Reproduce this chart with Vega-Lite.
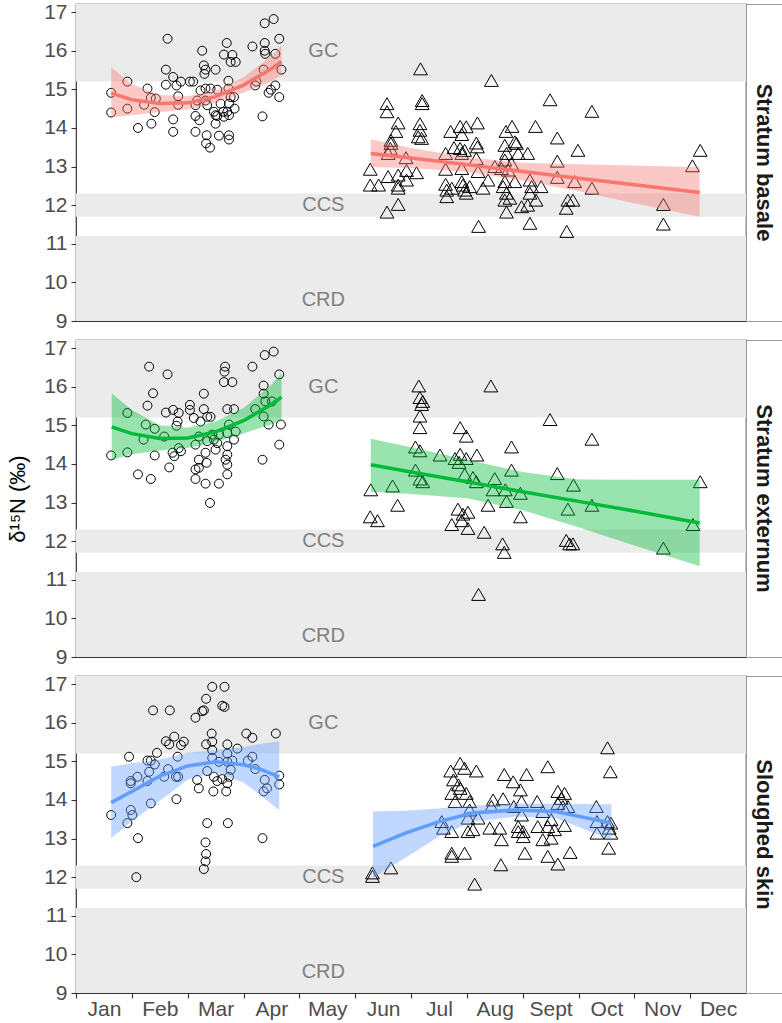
{
  "$schema": "https://vega.github.io/schema/vega-lite/v6.json",
  "padding": {"left": 6, "top": 0, "right": 0, "bottom": 0},
  "background": "white",
  "config": {
    "font": "Liberation Sans",
    "view": {"stroke": "#333333", "strokeWidth": 1.1},
    "axisY": {"values": [9,10,11,12,13,14,15,16,17], "tickCount": 9, "labelOverlap": false}
  },
  "datasets": {
    "bands": [
      {"xmin": 0, "xmax": 12, "ymin": 15.2, "ymax": 17.21, "label": "GC", "lx": 4.43, "ly": 16.0},
      {"xmin": 0, "xmax": 12, "ymin": 11.7, "ymax": 12.3, "label": "CCS", "lx": 4.43, "ly": 12.0},
      {"xmin": 0, "xmax": 12, "ymin": 9.0, "ymax": 11.2, "label": "CRD", "lx": 4.43, "ly": 9.55}
    ],
    "strips": [
      {"panel": 1, "label": "Stratum basale"},
      {"panel": 2, "label": "Stratum externum"},
      {"panel": 3, "label": "Sloughed skin"}
    ],
    "fit": [
      {"panel":1,"grp":"c","m":0.63,"fit":14.90,"lo":14.28,"hi":15.57},
      {"panel":1,"grp":"c","m":1.0,"fit":14.73,"lo":14.33,"hi":15.13},
      {"panel":1,"grp":"c","m":1.5,"fit":14.63,"lo":14.41,"hi":14.85},
      {"panel":1,"grp":"c","m":2.0,"fit":14.65,"lo":14.48,"hi":14.82},
      {"panel":1,"grp":"c","m":2.5,"fit":14.81,"lo":14.65,"hi":14.97},
      {"panel":1,"grp":"c","m":3.0,"fit":15.11,"lo":14.91,"hi":15.31},
      {"panel":1,"grp":"c","m":3.5,"fit":15.53,"lo":15.20,"hi":15.86},
      {"panel":1,"grp":"c","m":3.68,"fit":15.72,"lo":15.37,"hi":16.15},
      {"panel":1,"grp":"t","m":5.28,"fit":13.34,"lo":12.99,"hi":13.71},
      {"panel":1,"grp":"t","m":6.0,"fit":13.22,"lo":12.96,"hi":13.48},
      {"panel":1,"grp":"t","m":7.0,"fit":13.05,"lo":12.86,"hi":13.24},
      {"panel":1,"grp":"t","m":8.0,"fit":12.87,"lo":12.64,"hi":13.10},
      {"panel":1,"grp":"t","m":9.0,"fit":12.70,"lo":12.36,"hi":13.06},
      {"panel":1,"grp":"t","m":10.0,"fit":12.53,"lo":12.05,"hi":13.03},
      {"panel":1,"grp":"t","m":11.17,"fit":12.33,"lo":11.70,"hi":12.98},
      {"panel":2,"grp":"c","m":0.64,"fit":14.96,"lo":14.11,"hi":15.83},
      {"panel":2,"grp":"c","m":1.0,"fit":14.785,"lo":14.25,"hi":15.40},
      {"panel":2,"grp":"c","m":1.5,"fit":14.66,"lo":14.35,"hi":15.00},
      {"panel":2,"grp":"c","m":2.0,"fit":14.675,"lo":14.41,"hi":14.94},
      {"panel":2,"grp":"c","m":2.5,"fit":14.83,"lo":14.56,"hi":15.10},
      {"panel":2,"grp":"c","m":3.0,"fit":15.12,"lo":14.79,"hi":15.45},
      {"panel":2,"grp":"c","m":3.5,"fit":15.54,"lo":15.03,"hi":16.05},
      {"panel":2,"grp":"c","m":3.68,"fit":15.73,"lo":15.13,"hi":16.35},
      {"panel":2,"grp":"t","m":5.28,"fit":13.98,"lo":13.28,"hi":14.65},
      {"panel":2,"grp":"t","m":6.0,"fit":13.79,"lo":13.22,"hi":14.43},
      {"panel":2,"grp":"t","m":7.0,"fit":13.54,"lo":13.11,"hi":14.11},
      {"panel":2,"grp":"t","m":8.0,"fit":13.28,"lo":12.80,"hi":13.79},
      {"panel":2,"grp":"t","m":9.0,"fit":13.03,"lo":12.36,"hi":13.60},
      {"panel":2,"grp":"t","m":10.0,"fit":12.78,"lo":11.89,"hi":13.59},
      {"panel":2,"grp":"t","m":11.17,"fit":12.47,"lo":11.35,"hi":13.59},
      {"panel":3,"grp":"c","m":0.63,"fit":13.93,"lo":13.01,"hi":14.86},
      {"panel":3,"grp":"c","m":1.0,"fit":14.22,"lo":13.45,"hi":14.95},
      {"panel":3,"grp":"c","m":1.5,"fit":14.62,"lo":13.98,"hi":15.05},
      {"panel":3,"grp":"c","m":2.0,"fit":14.88,"lo":14.52,"hi":15.22},
      {"panel":3,"grp":"c","m":2.5,"fit":14.99,"lo":14.71,"hi":15.29},
      {"panel":3,"grp":"c","m":3.0,"fit":14.91,"lo":14.45,"hi":15.37},
      {"panel":3,"grp":"c","m":3.3,"fit":14.80,"lo":14.13,"hi":15.45},
      {"panel":3,"grp":"c","m":3.64,"fit":14.60,"lo":13.74,"hi":15.52},
      {"panel":3,"grp":"t","m":5.32,"fit":12.80,"lo":11.98,"hi":13.70},
      {"panel":3,"grp":"t","m":5.9,"fit":13.14,"lo":12.50,"hi":13.72},
      {"panel":3,"grp":"t","m":6.5,"fit":13.44,"lo":13.05,"hi":13.78},
      {"panel":3,"grp":"t","m":7.1,"fit":13.66,"lo":13.44,"hi":13.85},
      {"panel":3,"grp":"t","m":7.87,"fit":13.74,"lo":13.57,"hi":13.91},
      {"panel":3,"grp":"t","m":8.59,"fit":13.70,"lo":13.53,"hi":13.90},
      {"panel":3,"grp":"t","m":9.59,"fit":13.40,"lo":12.97,"hi":13.89}
    ],
    "pts": [
      {"panel":1,"grp":"c","m":0.63,"v":14.91},{"panel":1,"grp":"c","m":0.63,"v":14.40},{"panel":1,"grp":"c","m":0.92,"v":15.20},{"panel":1,"grp":"c","m":0.92,"v":14.50},
      {"panel":1,"grp":"c","m":1.11,"v":14.00},{"panel":1,"grp":"c","m":1.28,"v":15.02},{"panel":1,"grp":"c","m":1.35,"v":14.11},{"panel":1,"grp":"c","m":1.22,"v":14.60},
      {"panel":1,"grp":"c","m":1.34,"v":14.78},{"panel":1,"grp":"c","m":1.43,"v":14.76},{"panel":1,"grp":"c","m":1.41,"v":14.41},{"panel":1,"grp":"c","m":1.64,"v":16.31},
      {"panel":1,"grp":"c","m":1.61,"v":15.51},{"panel":1,"grp":"c","m":1.74,"v":15.32},{"panel":1,"grp":"c","m":1.61,"v":15.12},{"panel":1,"grp":"c","m":1.80,"v":15.10},
      {"panel":1,"grp":"c","m":1.88,"v":15.20},{"panel":1,"grp":"c","m":1.83,"v":14.82},{"panel":1,"grp":"c","m":1.83,"v":14.60},{"panel":1,"grp":"c","m":1.74,"v":14.22},
      {"panel":1,"grp":"c","m":1.74,"v":13.90},{"panel":1,"grp":"c","m":2.04,"v":15.20},{"panel":1,"grp":"c","m":2.10,"v":15.20},{"panel":1,"grp":"c","m":2.14,"v":13.90},
      {"panel":1,"grp":"c","m":2.14,"v":14.31},{"panel":1,"grp":"c","m":2.14,"v":14.59},{"panel":1,"grp":"c","m":2.17,"v":14.71},{"panel":1,"grp":"c","m":2.26,"v":16.00},
      {"panel":1,"grp":"c","m":2.29,"v":15.62},{"panel":1,"grp":"c","m":2.32,"v":15.51},{"panel":1,"grp":"c","m":2.30,"v":15.40},{"panel":1,"grp":"c","m":2.50,"v":15.51},
      {"panel":1,"grp":"c","m":2.23,"v":14.97},{"panel":1,"grp":"c","m":2.32,"v":15.02},{"panel":1,"grp":"c","m":2.41,"v":15.02},{"panel":1,"grp":"c","m":2.53,"v":14.99},
      {"panel":1,"grp":"c","m":2.21,"v":14.20},{"panel":1,"grp":"c","m":2.34,"v":13.81},{"panel":1,"grp":"c","m":2.33,"v":13.60},{"panel":1,"grp":"c","m":2.40,"v":13.49},
      {"panel":1,"grp":"c","m":2.32,"v":14.71},{"panel":1,"grp":"c","m":2.35,"v":14.59},{"panel":1,"grp":"c","m":2.47,"v":14.42},{"panel":1,"grp":"c","m":2.50,"v":14.33},
      {"panel":1,"grp":"c","m":2.53,"v":14.31},{"panel":1,"grp":"c","m":2.50,"v":14.11},{"panel":1,"grp":"c","m":2.56,"v":13.80},{"panel":1,"grp":"c","m":2.59,"v":14.63},
      {"panel":1,"grp":"c","m":2.70,"v":16.20},{"panel":1,"grp":"c","m":2.65,"v":15.90},{"panel":1,"grp":"c","m":2.80,"v":15.89},{"panel":1,"grp":"c","m":2.77,"v":15.71},
      {"panel":1,"grp":"c","m":2.86,"v":15.71},{"panel":1,"grp":"c","m":2.73,"v":15.22},{"panel":1,"grp":"c","m":2.73,"v":15.02},{"panel":1,"grp":"c","m":2.77,"v":14.80},
      {"panel":1,"grp":"c","m":2.83,"v":14.80},{"panel":1,"grp":"c","m":2.64,"v":14.42},{"panel":1,"grp":"c","m":2.71,"v":14.42},{"panel":1,"grp":"c","m":2.74,"v":14.33},
      {"panel":1,"grp":"c","m":2.65,"v":14.29},{"panel":1,"grp":"c","m":2.74,"v":13.81},{"panel":1,"grp":"c","m":2.74,"v":13.70},{"panel":1,"grp":"c","m":2.84,"v":14.50},
      {"panel":1,"grp":"c","m":2.74,"v":14.63},{"panel":1,"grp":"c","m":3.16,"v":16.11},{"panel":1,"grp":"c","m":3.23,"v":15.20},{"panel":1,"grp":"c","m":3.21,"v":15.10},
      {"panel":1,"grp":"c","m":3.34,"v":14.30},{"panel":1,"grp":"c","m":3.38,"v":16.71},{"panel":1,"grp":"c","m":3.54,"v":16.82},{"panel":1,"grp":"c","m":3.38,"v":16.20},
      {"panel":1,"grp":"c","m":3.38,"v":16.00},{"panel":1,"grp":"c","m":3.39,"v":15.92},{"panel":1,"grp":"c","m":3.36,"v":15.51},{"panel":1,"grp":"c","m":3.64,"v":16.31},
      {"panel":1,"grp":"c","m":3.57,"v":15.92},{"panel":1,"grp":"c","m":3.68,"v":15.51},{"panel":1,"grp":"c","m":3.57,"v":15.10},{"panel":1,"grp":"c","m":3.49,"v":14.99},
      {"panel":1,"grp":"c","m":3.45,"v":14.91},{"panel":1,"grp":"c","m":3.64,"v":14.80},
      {"panel":1,"grp":"t","m":6.17,"v":15.53},{"panel":1,"grp":"t","m":7.44,"v":15.23},{"panel":1,"grp":"t","m":5.57,"v":14.63},{"panel":1,"grp":"t","m":5.57,"v":14.42},
      {"panel":1,"grp":"t","m":6.20,"v":14.71},{"panel":1,"grp":"t","m":6.20,"v":14.63},{"panel":1,"grp":"t","m":8.49,"v":14.73},{"panel":1,"grp":"t","m":9.24,"v":14.43},
      {"panel":1,"grp":"t","m":5.77,"v":14.13},{"panel":1,"grp":"t","m":5.73,"v":13.91},{"panel":1,"grp":"t","m":6.16,"v":14.11},{"panel":1,"grp":"t","m":6.16,"v":13.94},
      {"panel":1,"grp":"t","m":6.13,"v":13.77},{"panel":1,"grp":"t","m":6.19,"v":13.73},{"panel":1,"grp":"t","m":5.64,"v":13.68},{"panel":1,"grp":"t","m":5.64,"v":13.60},
      {"panel":1,"grp":"t","m":5.63,"v":13.47},{"panel":1,"grp":"t","m":5.59,"v":13.34},{"panel":1,"grp":"t","m":5.27,"v":12.93},{"panel":1,"grp":"t","m":5.27,"v":12.52},
      {"panel":1,"grp":"t","m":5.42,"v":12.52},{"panel":1,"grp":"t","m":5.59,"v":12.74},{"panel":1,"grp":"t","m":5.77,"v":12.78},{"panel":1,"grp":"t","m":5.77,"v":12.52},
      {"panel":1,"grp":"t","m":5.77,"v":12.44},{"panel":1,"grp":"t","m":5.91,"v":13.23},{"panel":1,"grp":"t","m":5.92,"v":12.90},{"panel":1,"grp":"t","m":5.92,"v":12.65},
      {"panel":1,"grp":"t","m":6.10,"v":12.84},{"panel":1,"grp":"t","m":5.77,"v":12.02},{"panel":1,"grp":"t","m":5.57,"v":11.82},{"panel":1,"grp":"t","m":6.71,"v":13.91},
      {"panel":1,"grp":"t","m":6.88,"v":14.04},{"panel":1,"grp":"t","m":6.99,"v":14.03},{"panel":1,"grp":"t","m":7.19,"v":14.13},{"panel":1,"grp":"t","m":6.91,"v":13.83},
      {"panel":1,"grp":"t","m":6.77,"v":13.49},{"panel":1,"grp":"t","m":6.88,"v":13.47},{"panel":1,"grp":"t","m":6.96,"v":13.42},{"panel":1,"grp":"t","m":7.17,"v":13.61},
      {"panel":1,"grp":"t","m":7.19,"v":13.51},{"panel":1,"grp":"t","m":6.62,"v":13.34},{"panel":1,"grp":"t","m":6.91,"v":13.34},{"panel":1,"grp":"t","m":7.17,"v":13.21},
      {"panel":1,"grp":"t","m":6.62,"v":12.93},{"panel":1,"grp":"t","m":6.91,"v":12.95},{"panel":1,"grp":"t","m":7.20,"v":12.87},{"panel":1,"grp":"t","m":6.62,"v":12.54},
      {"panel":1,"grp":"t","m":6.64,"v":12.39},{"panel":1,"grp":"t","m":6.64,"v":12.22},{"panel":1,"grp":"t","m":6.73,"v":12.44},{"panel":1,"grp":"t","m":6.91,"v":12.61},
      {"panel":1,"grp":"t","m":6.93,"v":12.52},{"panel":1,"grp":"t","m":6.96,"v":12.39},{"panel":1,"grp":"t","m":7.05,"v":12.48},{"panel":1,"grp":"t","m":6.99,"v":12.31},
      {"panel":1,"grp":"t","m":7.29,"v":12.44},{"panel":1,"grp":"t","m":7.38,"v":12.65},{"panel":1,"grp":"t","m":7.21,"v":11.45},{"panel":1,"grp":"t","m":7.70,"v":13.91},
      {"panel":1,"grp":"t","m":7.81,"v":14.04},{"panel":1,"grp":"t","m":8.23,"v":14.04},{"panel":1,"grp":"t","m":7.68,"v":13.55},{"panel":1,"grp":"t","m":7.71,"v":13.34},
      {"panel":1,"grp":"t","m":7.68,"v":13.17},{"panel":1,"grp":"t","m":7.80,"v":13.08},{"panel":1,"grp":"t","m":7.86,"v":13.64},{"panel":1,"grp":"t","m":7.89,"v":13.60},
      {"panel":1,"grp":"t","m":7.92,"v":13.34},{"panel":1,"grp":"t","m":8.09,"v":13.34},{"panel":1,"grp":"t","m":7.50,"v":13.00},{"panel":1,"grp":"t","m":7.62,"v":12.95},
      {"panel":1,"grp":"t","m":7.74,"v":12.91},{"panel":1,"grp":"t","m":7.68,"v":12.61},{"panel":1,"grp":"t","m":7.86,"v":12.61},{"panel":1,"grp":"t","m":7.65,"v":12.48},
      {"panel":1,"grp":"t","m":7.71,"v":12.31},{"panel":1,"grp":"t","m":7.77,"v":12.18},{"panel":1,"grp":"t","m":7.68,"v":12.13},{"panel":1,"grp":"t","m":7.71,"v":11.82},
      {"panel":1,"grp":"t","m":8.13,"v":12.65},{"panel":1,"grp":"t","m":8.16,"v":12.48},{"panel":1,"grp":"t","m":8.13,"v":12.31},{"panel":1,"grp":"t","m":8.24,"v":12.13},
      {"panel":1,"grp":"t","m":8.09,"v":12.00},{"panel":1,"grp":"t","m":7.98,"v":11.96},{"panel":1,"grp":"t","m":8.33,"v":12.48},{"panel":1,"grp":"t","m":8.13,"v":11.53},
      {"panel":1,"grp":"t","m":8.62,"v":13.74},{"panel":1,"grp":"t","m":8.99,"v":13.42},{"panel":1,"grp":"t","m":8.62,"v":13.14},{"panel":1,"grp":"t","m":8.62,"v":12.72},
      {"panel":1,"grp":"t","m":8.93,"v":12.61},{"panel":1,"grp":"t","m":8.81,"v":12.13},{"panel":1,"grp":"t","m":8.90,"v":12.13},{"panel":1,"grp":"t","m":8.78,"v":11.92},
      {"panel":1,"grp":"t","m":8.79,"v":11.32},{"panel":1,"grp":"t","m":9.24,"v":12.44},{"panel":1,"grp":"t","m":11.18,"v":13.42},{"panel":1,"grp":"t","m":11.04,"v":13.02},
      {"panel":1,"grp":"t","m":10.52,"v":12.02},{"panel":1,"grp":"t","m":10.52,"v":11.51},
      {"panel":2,"grp":"c","m":0.63,"v":14.22},{"panel":2,"grp":"c","m":0.92,"v":15.32},{"panel":2,"grp":"c","m":0.92,"v":14.30},{"panel":2,"grp":"c","m":1.11,"v":13.73},
      {"panel":2,"grp":"c","m":1.34,"v":13.61},{"panel":2,"grp":"c","m":1.31,"v":16.52},{"panel":2,"grp":"c","m":1.64,"v":16.32},{"panel":2,"grp":"c","m":1.38,"v":15.83},
      {"panel":2,"grp":"c","m":1.28,"v":15.51},{"panel":2,"grp":"c","m":1.25,"v":15.02},{"panel":2,"grp":"c","m":1.41,"v":14.91},{"panel":2,"grp":"c","m":1.21,"v":14.63},
      {"panel":2,"grp":"c","m":1.41,"v":14.22},{"panel":2,"grp":"c","m":1.58,"v":14.71},{"panel":2,"grp":"c","m":1.67,"v":13.91},{"panel":2,"grp":"c","m":1.61,"v":15.33},
      {"panel":2,"grp":"c","m":1.74,"v":15.40},{"panel":2,"grp":"c","m":1.84,"v":15.32},{"panel":2,"grp":"c","m":1.82,"v":15.10},{"panel":2,"grp":"c","m":1.80,"v":14.99},
      {"panel":2,"grp":"c","m":1.73,"v":14.29},{"panel":2,"grp":"c","m":1.76,"v":14.20},{"panel":2,"grp":"c","m":1.84,"v":14.41},{"panel":2,"grp":"c","m":1.88,"v":14.33},
      {"panel":2,"grp":"c","m":2.04,"v":15.53},{"panel":2,"grp":"c","m":2.04,"v":15.40},{"panel":2,"grp":"c","m":2.11,"v":15.19},{"panel":2,"grp":"c","m":2.23,"v":15.10},
      {"panel":2,"grp":"c","m":2.29,"v":15.82},{"panel":2,"grp":"c","m":2.29,"v":15.42},{"panel":2,"grp":"c","m":2.35,"v":15.22},{"panel":2,"grp":"c","m":2.41,"v":15.22},
      {"panel":2,"grp":"c","m":2.14,"v":14.50},{"panel":2,"grp":"c","m":2.20,"v":14.71},{"panel":2,"grp":"c","m":2.20,"v":14.11},{"panel":2,"grp":"c","m":2.14,"v":13.86},
      {"panel":2,"grp":"c","m":2.14,"v":13.61},{"panel":2,"grp":"c","m":2.20,"v":13.90},{"panel":2,"grp":"c","m":2.34,"v":14.03},{"panel":2,"grp":"c","m":2.32,"v":13.49},
      {"panel":2,"grp":"c","m":2.40,"v":12.99},{"panel":2,"grp":"c","m":2.32,"v":14.29},{"panel":2,"grp":"c","m":2.35,"v":14.59},{"panel":2,"grp":"c","m":2.47,"v":14.63},
      {"panel":2,"grp":"c","m":2.50,"v":14.37},{"panel":2,"grp":"c","m":2.53,"v":14.54},{"panel":2,"grp":"c","m":2.44,"v":14.76},{"panel":2,"grp":"c","m":2.56,"v":13.49},
      {"panel":2,"grp":"c","m":2.56,"v":14.76},{"panel":2,"grp":"c","m":2.67,"v":16.52},{"panel":2,"grp":"c","m":2.66,"v":16.39},{"panel":2,"grp":"c","m":2.65,"v":16.12},
      {"panel":2,"grp":"c","m":2.80,"v":16.12},{"panel":2,"grp":"c","m":2.71,"v":15.42},{"panel":2,"grp":"c","m":2.83,"v":15.42},{"panel":2,"grp":"c","m":2.74,"v":15.02},
      {"panel":2,"grp":"c","m":2.71,"v":14.80},{"panel":2,"grp":"c","m":2.86,"v":14.84},{"panel":2,"grp":"c","m":2.83,"v":14.63},{"panel":2,"grp":"c","m":2.71,"v":14.46},
      {"panel":2,"grp":"c","m":2.71,"v":14.24},{"panel":2,"grp":"c","m":2.68,"v":14.11},{"panel":2,"grp":"c","m":2.71,"v":13.98},{"panel":2,"grp":"c","m":2.71,"v":13.73},
      {"panel":2,"grp":"c","m":3.16,"v":16.52},{"panel":2,"grp":"c","m":3.21,"v":15.42},{"panel":2,"grp":"c","m":3.38,"v":16.82},{"panel":2,"grp":"c","m":3.54,"v":16.91},
      {"panel":2,"grp":"c","m":3.36,"v":16.03},{"panel":2,"grp":"c","m":3.36,"v":15.82},{"panel":2,"grp":"c","m":3.39,"v":15.62},{"panel":2,"grp":"c","m":3.51,"v":15.62},
      {"panel":2,"grp":"c","m":3.36,"v":15.23},{"panel":2,"grp":"c","m":3.45,"v":15.02},{"panel":2,"grp":"c","m":3.64,"v":16.32},{"panel":2,"grp":"c","m":3.67,"v":15.02},
      {"panel":2,"grp":"c","m":3.64,"v":14.50},{"panel":2,"grp":"c","m":3.34,"v":14.11},
      {"panel":2,"grp":"t","m":5.28,"v":13.33},{"panel":2,"grp":"t","m":5.27,"v":12.63},{"panel":2,"grp":"t","m":5.40,"v":12.53},{"panel":2,"grp":"t","m":5.67,"v":13.43},
      {"panel":2,"grp":"t","m":5.76,"v":12.93},{"panel":2,"grp":"t","m":6.08,"v":14.44},{"panel":2,"grp":"t","m":6.16,"v":14.34},{"panel":2,"grp":"t","m":6.08,"v":13.84},
      {"panel":2,"grp":"t","m":6.16,"v":13.61},{"panel":2,"grp":"t","m":6.21,"v":13.54},{"panel":2,"grp":"t","m":6.16,"v":15.24},{"panel":2,"grp":"t","m":6.16,"v":14.94},
      {"panel":2,"grp":"t","m":6.19,"v":15.54},{"panel":2,"grp":"t","m":6.14,"v":16.02},{"panel":2,"grp":"t","m":6.16,"v":15.72},{"panel":2,"grp":"t","m":6.21,"v":15.62},
      {"panel":2,"grp":"t","m":6.52,"v":14.23},{"panel":2,"grp":"t","m":6.88,"v":14.94},{"panel":2,"grp":"t","m":6.99,"v":14.72},{"panel":2,"grp":"t","m":6.79,"v":14.14},
      {"panel":2,"grp":"t","m":6.88,"v":14.25},{"panel":2,"grp":"t","m":6.86,"v":14.04},{"panel":2,"grp":"t","m":6.99,"v":14.14},{"panel":2,"grp":"t","m":7.18,"v":14.23},
      {"panel":2,"grp":"t","m":6.96,"v":13.73},{"panel":2,"grp":"t","m":7.11,"v":13.65},{"panel":2,"grp":"t","m":7.17,"v":13.54},{"panel":2,"grp":"t","m":6.84,"v":12.83},
      {"panel":2,"grp":"t","m":6.93,"v":12.70},{"panel":2,"grp":"t","m":7.02,"v":12.75},{"panel":2,"grp":"t","m":6.91,"v":12.53},{"panel":2,"grp":"t","m":6.73,"v":12.43},
      {"panel":2,"grp":"t","m":7.02,"v":12.33},{"panel":2,"grp":"t","m":7.31,"v":12.23},{"panel":2,"grp":"t","m":7.38,"v":12.93},{"panel":2,"grp":"t","m":7.50,"v":13.62},
      {"panel":2,"grp":"t","m":7.47,"v":13.33},{"panel":2,"grp":"t","m":7.69,"v":13.33},{"panel":2,"grp":"t","m":7.71,"v":13.03},{"panel":2,"grp":"t","m":7.80,"v":14.44},
      {"panel":2,"grp":"t","m":7.80,"v":13.84},{"panel":2,"grp":"t","m":7.96,"v":13.24},{"panel":2,"grp":"t","m":7.96,"v":12.63},{"panel":2,"grp":"t","m":7.64,"v":11.93},
      {"panel":2,"grp":"t","m":7.67,"v":11.71},{"panel":2,"grp":"t","m":7.21,"v":10.62},{"panel":2,"grp":"t","m":8.49,"v":15.15},{"panel":2,"grp":"t","m":8.62,"v":13.75},
      {"panel":2,"grp":"t","m":8.91,"v":13.45},{"panel":2,"grp":"t","m":8.81,"v":12.83},{"panel":2,"grp":"t","m":8.78,"v":12.02},{"panel":2,"grp":"t","m":8.84,"v":11.93},
      {"panel":2,"grp":"t","m":8.90,"v":11.93},{"panel":2,"grp":"t","m":9.24,"v":14.64},{"panel":2,"grp":"t","m":9.24,"v":12.93},{"panel":2,"grp":"t","m":10.52,"v":11.82},
      {"panel":2,"grp":"t","m":11.05,"v":12.43},{"panel":2,"grp":"t","m":11.18,"v":13.54},{"panel":2,"grp":"t","m":7.43,"v":16.02},
      {"panel":3,"grp":"c","m":2.44,"v":16.93},{"panel":3,"grp":"c","m":2.66,"v":16.93},{"panel":3,"grp":"c","m":2.33,"v":16.62},{"panel":3,"grp":"c","m":2.29,"v":16.32},
      {"panel":3,"grp":"c","m":2.26,"v":16.30},{"panel":3,"grp":"c","m":2.14,"v":16.13},{"panel":3,"grp":"c","m":2.62,"v":16.44},{"panel":3,"grp":"c","m":2.66,"v":16.41},
      {"panel":3,"grp":"c","m":1.38,"v":16.32},{"panel":3,"grp":"c","m":1.68,"v":16.32},{"panel":3,"grp":"c","m":2.43,"v":15.72},{"panel":3,"grp":"c","m":2.44,"v":15.51},
      {"panel":3,"grp":"c","m":2.33,"v":15.44},{"panel":3,"grp":"c","m":2.71,"v":15.44},{"panel":3,"grp":"c","m":2.89,"v":15.33},{"panel":3,"grp":"c","m":2.71,"v":15.20},
      {"panel":3,"grp":"c","m":3.05,"v":15.72},{"panel":3,"grp":"c","m":3.16,"v":15.61},{"panel":3,"grp":"c","m":3.58,"v":15.72},{"panel":3,"grp":"c","m":1.61,"v":15.52},
      {"panel":3,"grp":"c","m":1.67,"v":15.44},{"panel":3,"grp":"c","m":1.76,"v":15.64},{"panel":3,"grp":"c","m":1.88,"v":15.42},{"panel":3,"grp":"c","m":1.93,"v":15.51},
      {"panel":3,"grp":"c","m":1.45,"v":15.22},{"panel":3,"grp":"c","m":1.28,"v":15.02},{"panel":3,"grp":"c","m":1.34,"v":15.02},{"panel":3,"grp":"c","m":0.95,"v":15.12},
      {"panel":3,"grp":"c","m":1.82,"v":15.12},{"panel":3,"grp":"c","m":2.44,"v":15.29},{"panel":3,"grp":"c","m":2.44,"v":15.09},{"panel":3,"grp":"c","m":2.56,"v":14.99},
      {"panel":3,"grp":"c","m":2.71,"v":14.99},{"panel":3,"grp":"c","m":2.80,"v":15.02},{"panel":3,"grp":"c","m":3.08,"v":15.02},{"panel":3,"grp":"c","m":3.16,"v":15.12},
      {"panel":3,"grp":"c","m":3.21,"v":14.80},{"panel":3,"grp":"c","m":1.41,"v":14.92},{"panel":3,"grp":"c","m":1.10,"v":14.60},{"panel":3,"grp":"c","m":0.98,"v":14.49},
      {"panel":3,"grp":"c","m":0.98,"v":14.43},{"panel":3,"grp":"c","m":1.31,"v":14.73},{"panel":3,"grp":"c","m":1.28,"v":14.49},{"panel":3,"grp":"c","m":1.65,"v":14.80},
      {"panel":3,"grp":"c","m":1.58,"v":14.60},{"panel":3,"grp":"c","m":1.79,"v":14.60},{"panel":3,"grp":"c","m":1.83,"v":14.60},{"panel":3,"grp":"c","m":2.17,"v":14.52},
      {"panel":3,"grp":"c","m":2.20,"v":14.30},{"panel":3,"grp":"c","m":2.35,"v":14.75},{"panel":3,"grp":"c","m":2.47,"v":14.60},{"panel":3,"grp":"c","m":2.53,"v":14.49},
      {"panel":3,"grp":"c","m":2.62,"v":14.54},{"panel":3,"grp":"c","m":2.71,"v":14.43},{"panel":3,"grp":"c","m":2.74,"v":14.60},{"panel":3,"grp":"c","m":2.77,"v":14.78},
      {"panel":3,"grp":"c","m":2.46,"v":14.22},{"panel":3,"grp":"c","m":2.69,"v":14.22},{"panel":3,"grp":"c","m":3.38,"v":14.52},{"panel":3,"grp":"c","m":3.42,"v":14.30},
      {"panel":3,"grp":"c","m":3.36,"v":14.22},{"panel":3,"grp":"c","m":3.64,"v":14.63},{"panel":3,"grp":"c","m":3.64,"v":14.40},{"panel":3,"grp":"c","m":1.80,"v":14.02},
      {"panel":3,"grp":"c","m":1.34,"v":13.91},{"panel":3,"grp":"c","m":0.63,"v":13.61},{"panel":3,"grp":"c","m":0.98,"v":13.74},{"panel":3,"grp":"c","m":1.01,"v":13.61},
      {"panel":3,"grp":"c","m":0.92,"v":13.40},{"panel":3,"grp":"c","m":1.11,"v":13.01},{"panel":3,"grp":"c","m":2.35,"v":13.40},{"panel":3,"grp":"c","m":2.72,"v":13.40},
      {"panel":3,"grp":"c","m":3.34,"v":13.01},{"panel":3,"grp":"c","m":2.32,"v":12.90},{"panel":3,"grp":"c","m":2.33,"v":12.60},{"panel":3,"grp":"c","m":2.32,"v":12.41},
      {"panel":3,"grp":"c","m":2.29,"v":12.21},{"panel":3,"grp":"c","m":1.08,"v":12.00},
      {"panel":3,"grp":"t","m":5.31,"v":12.11},{"panel":3,"grp":"t","m":5.31,"v":12.02},{"panel":3,"grp":"t","m":5.64,"v":12.24},{"panel":3,"grp":"t","m":7.14,"v":11.82},
      {"panel":3,"grp":"t","m":9.52,"v":15.35},{"panel":3,"grp":"t","m":9.57,"v":14.73},{"panel":3,"grp":"t","m":9.32,"v":13.83},{"panel":3,"grp":"t","m":9.33,"v":13.44},
      {"panel":3,"grp":"t","m":9.33,"v":13.14},{"panel":3,"grp":"t","m":9.52,"v":13.44},{"panel":3,"grp":"t","m":9.58,"v":13.40},{"panel":3,"grp":"t","m":9.55,"v":13.27},
      {"panel":3,"grp":"t","m":9.58,"v":13.14},{"panel":3,"grp":"t","m":9.54,"v":12.75},{"panel":3,"grp":"t","m":8.45,"v":14.86},{"panel":3,"grp":"t","m":8.07,"v":14.66},
      {"panel":3,"grp":"t","m":7.67,"v":14.66},{"panel":3,"grp":"t","m":7.83,"v":14.47},{"panel":3,"grp":"t","m":7.96,"v":14.26},{"panel":3,"grp":"t","m":6.71,"v":14.75},
      {"panel":3,"grp":"t","m":6.88,"v":14.95},{"panel":3,"grp":"t","m":6.96,"v":14.82},{"panel":3,"grp":"t","m":7.17,"v":14.75},{"panel":3,"grp":"t","m":6.76,"v":14.52},
      {"panel":3,"grp":"t","m":6.85,"v":14.39},{"panel":3,"grp":"t","m":6.88,"v":14.30},{"panel":3,"grp":"t","m":6.73,"v":14.17},{"panel":3,"grp":"t","m":6.99,"v":14.17},
      {"panel":3,"grp":"t","m":6.79,"v":13.96},{"panel":3,"grp":"t","m":7.05,"v":13.96},{"panel":3,"grp":"t","m":7.05,"v":13.74},{"panel":3,"grp":"t","m":7.02,"v":13.53},
      {"panel":3,"grp":"t","m":7.20,"v":13.53},{"panel":3,"grp":"t","m":6.55,"v":13.44},{"panel":3,"grp":"t","m":6.58,"v":13.27},{"panel":3,"grp":"t","m":6.73,"v":13.18},
      {"panel":3,"grp":"t","m":7.02,"v":13.18},{"panel":3,"grp":"t","m":7.11,"v":13.23},{"panel":3,"grp":"t","m":6.73,"v":12.62},{"panel":3,"grp":"t","m":6.73,"v":12.54},
      {"panel":3,"grp":"t","m":6.96,"v":12.62},{"panel":3,"grp":"t","m":7.47,"v":14.00},{"panel":3,"grp":"t","m":7.44,"v":13.83},{"panel":3,"grp":"t","m":7.65,"v":14.03},
      {"panel":3,"grp":"t","m":7.41,"v":13.27},{"panel":3,"grp":"t","m":7.59,"v":13.27},{"panel":3,"grp":"t","m":7.62,"v":12.97},{"panel":3,"grp":"t","m":7.84,"v":13.83},
      {"panel":3,"grp":"t","m":7.98,"v":13.96},{"panel":3,"grp":"t","m":7.98,"v":13.61},{"panel":3,"grp":"t","m":7.92,"v":13.31},{"panel":3,"grp":"t","m":8.01,"v":13.18},
      {"panel":3,"grp":"t","m":8.01,"v":13.05},{"panel":3,"grp":"t","m":7.61,"v":12.32},{"panel":3,"grp":"t","m":8.04,"v":12.62},{"panel":3,"grp":"t","m":8.26,"v":13.96},
      {"panel":3,"grp":"t","m":8.36,"v":13.70},{"panel":3,"grp":"t","m":8.51,"v":13.49},{"panel":3,"grp":"t","m":8.27,"v":13.31},{"panel":3,"grp":"t","m":8.45,"v":13.31},
      {"panel":3,"grp":"t","m":8.57,"v":13.23},{"panel":3,"grp":"t","m":8.36,"v":12.97},{"panel":3,"grp":"t","m":8.51,"v":13.01},{"panel":3,"grp":"t","m":8.45,"v":12.54},
      {"panel":3,"grp":"t","m":8.63,"v":12.34},{"panel":3,"grp":"t","m":8.63,"v":14.22},{"panel":3,"grp":"t","m":8.69,"v":14.04},{"panel":3,"grp":"t","m":8.63,"v":13.91},
      {"panel":3,"grp":"t","m":8.75,"v":14.17},{"panel":3,"grp":"t","m":8.72,"v":13.83},{"panel":3,"grp":"t","m":8.81,"v":13.83},{"panel":3,"grp":"t","m":8.75,"v":13.34},
      {"panel":3,"grp":"t","m":8.85,"v":12.64},{"panel":3,"grp":"t","m":7.92,"v":13.18}
    ]
  },
  "vconcat": [
    {
      "spacing": 0,
      "bounds": "flush",
      "hconcat": [
        {
          "width": 670, "height": 317,
          "view": {"stroke": "#333333", "strokeWidth": 1.2},
          "layer": [
            {"data": {"name": "bands"}, "mark": {"type": "rect", "color": "#EBEBEB"},
             "encoding": {
               "x": {"field": "xmin", "type": "quantitative", "scale": {"domain": [0, 12], "nice": false, "zero": false}, "axis": null},
               "x2": {"field": "xmax"},
               "y": {"field": "ymin", "type": "quantitative", "scale": {"domain": [9, 17.21], "nice": false, "zero": false},
                     "axis": {"values": [9,10,11,12,13,14,15,16,17], "tickCount": 9, "grid": false, "domain": false, "labelOverlap": false, "tickSize": 5, "tickColor": "#333333", "tickWidth": 1.1, "labelFontSize": 21, "labelColor": "#4D4D4D", "labelPadding": 4, "title": "δ¹⁵N (‰)", "titleFontSize": 22, "titleFontWeight": "normal", "titleColor": "#000000", "titlePadding": 14, "titleOpacity": 0}},
               "y2": {"field": "ymax"}}},
            {"data": {"name": "bands"}, "mark": {"type": "text", "fontSize": 20, "color": "#808080", "align": "center", "baseline": "middle"},
             "encoding": {"x": {"field": "lx", "type": "quantitative"}, "y": {"field": "ly", "type": "quantitative"}, "text": {"field": "label"}}},
            {"data": {"name": "pts"}, "transform": [{"filter": "datum.panel == 1"}],
             "mark": {"type": "point", "filled": false, "color": "#000000", "strokeWidth": 1, "opacity": 1},
             "encoding": {"x": {"field": "m", "type": "quantitative"}, "y": {"field": "v", "type": "quantitative"},
               "shape": {"field": "grp", "type": "nominal", "scale": {"domain": ["c", "t"], "range": ["circle", "triangle-up"]}, "legend": null},
               "size": {"field": "grp", "type": "ordinal", "scale": {"domain": ["c", "t"], "range": [80, 190]}, "legend": null}}},
            {"data": {"name": "fit"}, "transform": [{"filter": "datum.panel == 1"}],
             "mark": {"type": "area", "color": "#F8766D", "opacity": 0.4},
             "encoding": {"x": {"field": "m", "type": "quantitative"}, "y": {"field": "lo", "type": "quantitative"}, "y2": {"field": "hi"}, "detail": {"field": "grp"}}},
            {"data": {"name": "fit"}, "transform": [{"filter": "datum.panel == 1"}],
             "mark": {"type": "line", "color": "#F8766D", "strokeWidth": 3.5},
             "encoding": {"x": {"field": "m", "type": "quantitative"}, "y": {"field": "fit", "type": "quantitative"}, "detail": {"field": "grp"}}}
          ]
        },
        {
          "width": 36, "height": 317,
          "view": {"stroke": "#999999", "strokeWidth": 1},
          "data": {"name": "strips"}, "transform": [{"filter": "datum.panel == 1"}],
          "mark": {"type": "text", "angle": 90, "fontSize": 22, "fontWeight": "bold", "color": "#1A1A1A", "align": "center", "baseline": "middle"},
          "encoding": {"text": {"field": "label"}}
        }
      ]
    },
    {
      "spacing": 0,
      "bounds": "flush",
      "hconcat": [
        {
          "width": 670, "height": 317,
          "view": {"stroke": "#333333", "strokeWidth": 1.2},
          "layer": [
            {"data": {"name": "bands"}, "mark": {"type": "rect", "color": "#EBEBEB"},
             "encoding": {
               "x": {"field": "xmin", "type": "quantitative", "scale": {"domain": [0, 12], "nice": false, "zero": false}, "axis": null},
               "x2": {"field": "xmax"},
               "y": {"field": "ymin", "type": "quantitative", "scale": {"domain": [9, 17.21], "nice": false, "zero": false},
                     "axis": {"values": [9,10,11,12,13,14,15,16,17], "tickCount": 9, "grid": false, "domain": false, "labelOverlap": false, "tickSize": 5, "tickColor": "#333333", "tickWidth": 1.1, "labelFontSize": 21, "labelColor": "#4D4D4D", "labelPadding": 4, "title": "δ¹⁵N (‰)", "titleFontSize": 22, "titleFontWeight": "normal", "titleColor": "#000000", "titlePadding": 14}},
               "y2": {"field": "ymax"}}},
            {"data": {"name": "bands"}, "mark": {"type": "text", "fontSize": 20, "color": "#808080", "align": "center", "baseline": "middle"},
             "encoding": {"x": {"field": "lx", "type": "quantitative"}, "y": {"field": "ly", "type": "quantitative"}, "text": {"field": "label"}}},
            {"data": {"name": "pts"}, "transform": [{"filter": "datum.panel == 2"}],
             "mark": {"type": "point", "filled": false, "color": "#000000", "strokeWidth": 1, "opacity": 1},
             "encoding": {"x": {"field": "m", "type": "quantitative"}, "y": {"field": "v", "type": "quantitative"},
               "shape": {"field": "grp", "type": "nominal", "scale": {"domain": ["c", "t"], "range": ["circle", "triangle-up"]}, "legend": null},
               "size": {"field": "grp", "type": "ordinal", "scale": {"domain": ["c", "t"], "range": [80, 190]}, "legend": null}}},
            {"data": {"name": "fit"}, "transform": [{"filter": "datum.panel == 2"}],
             "mark": {"type": "area", "color": "#00BA38", "opacity": 0.4},
             "encoding": {"x": {"field": "m", "type": "quantitative"}, "y": {"field": "lo", "type": "quantitative"}, "y2": {"field": "hi"}, "detail": {"field": "grp"}}},
            {"data": {"name": "fit"}, "transform": [{"filter": "datum.panel == 2"}],
             "mark": {"type": "line", "color": "#00BA38", "strokeWidth": 3.5},
             "encoding": {"x": {"field": "m", "type": "quantitative"}, "y": {"field": "fit", "type": "quantitative"}, "detail": {"field": "grp"}}}
          ]
        },
        {
          "width": 36, "height": 317,
          "view": {"stroke": "#999999", "strokeWidth": 1},
          "data": {"name": "strips"}, "transform": [{"filter": "datum.panel == 2"}],
          "mark": {"type": "text", "angle": 90, "fontSize": 22, "fontWeight": "bold", "color": "#1A1A1A", "align": "center", "baseline": "middle"},
          "encoding": {"text": {"field": "label"}}
        }
      ]
    },
    {
      "spacing": 0,
      "bounds": "flush",
      "hconcat": [
        {
          "width": 670, "height": 317,
          "view": {"stroke": "#333333", "strokeWidth": 1.2},
          "layer": [
            {"data": {"name": "bands"}, "mark": {"type": "rect", "color": "#EBEBEB"},
             "encoding": {
               "x": {"field": "xmin", "type": "quantitative", "scale": {"domain": [0, 12], "nice": false, "zero": false},
                     "axis": {"values": [0,1,2,3,4,5,6,7,8,9,10,11], "grid": false, "domain": false, "tickSize": 5, "tickColor": "#333333", "tickWidth": 1.1, "labelFontSize": 21, "labelColor": "#4D4D4D", "labelPadding": 0, "labelOffset": 27.9, "labelFlush": false, "labelOverlap": false, "labelBound": false, "title": null,
                              "labelExpr": "['Jan','Feb','Mar','Apr','May','Jun','Jul','Aug','Sept','Oct','Nov','Dec'][datum.value]"}},
               "x2": {"field": "xmax"},
               "y": {"field": "ymin", "type": "quantitative", "scale": {"domain": [9, 17.21], "nice": false, "zero": false},
                     "axis": {"values": [9,10,11,12,13,14,15,16,17], "tickCount": 9, "grid": false, "domain": false, "labelOverlap": false, "tickSize": 5, "tickColor": "#333333", "tickWidth": 1.1, "labelFontSize": 21, "labelColor": "#4D4D4D", "labelPadding": 4, "title": "δ¹⁵N (‰)", "titleFontSize": 22, "titleFontWeight": "normal", "titleColor": "#000000", "titlePadding": 14, "titleOpacity": 0}},
               "y2": {"field": "ymax"}}},
            {"data": {"name": "bands"}, "mark": {"type": "text", "fontSize": 20, "color": "#808080", "align": "center", "baseline": "middle"},
             "encoding": {"x": {"field": "lx", "type": "quantitative"}, "y": {"field": "ly", "type": "quantitative"}, "text": {"field": "label"}}},
            {"data": {"name": "pts"}, "transform": [{"filter": "datum.panel == 3"}],
             "mark": {"type": "point", "filled": false, "color": "#000000", "strokeWidth": 1, "opacity": 1},
             "encoding": {"x": {"field": "m", "type": "quantitative"}, "y": {"field": "v", "type": "quantitative"},
               "shape": {"field": "grp", "type": "nominal", "scale": {"domain": ["c", "t"], "range": ["circle", "triangle-up"]}, "legend": null},
               "size": {"field": "grp", "type": "ordinal", "scale": {"domain": ["c", "t"], "range": [80, 190]}, "legend": null}}},
            {"data": {"name": "fit"}, "transform": [{"filter": "datum.panel == 3"}],
             "mark": {"type": "area", "color": "#619CFF", "opacity": 0.4},
             "encoding": {"x": {"field": "m", "type": "quantitative"}, "y": {"field": "lo", "type": "quantitative"}, "y2": {"field": "hi"}, "detail": {"field": "grp"}}},
            {"data": {"name": "fit"}, "transform": [{"filter": "datum.panel == 3"}],
             "mark": {"type": "line", "color": "#619CFF", "strokeWidth": 3.5},
             "encoding": {"x": {"field": "m", "type": "quantitative"}, "y": {"field": "fit", "type": "quantitative"}, "detail": {"field": "grp"}}}
          ]
        },
        {
          "width": 36, "height": 317,
          "view": {"stroke": "#999999", "strokeWidth": 1},
          "data": {"name": "strips"}, "transform": [{"filter": "datum.panel == 3"}],
          "mark": {"type": "text", "angle": 90, "fontSize": 22, "fontWeight": "bold", "color": "#1A1A1A", "align": "center", "baseline": "middle"},
          "encoding": {"text": {"field": "label"}}
        }
      ]
    }
  ],
  "spacing": 4
}
